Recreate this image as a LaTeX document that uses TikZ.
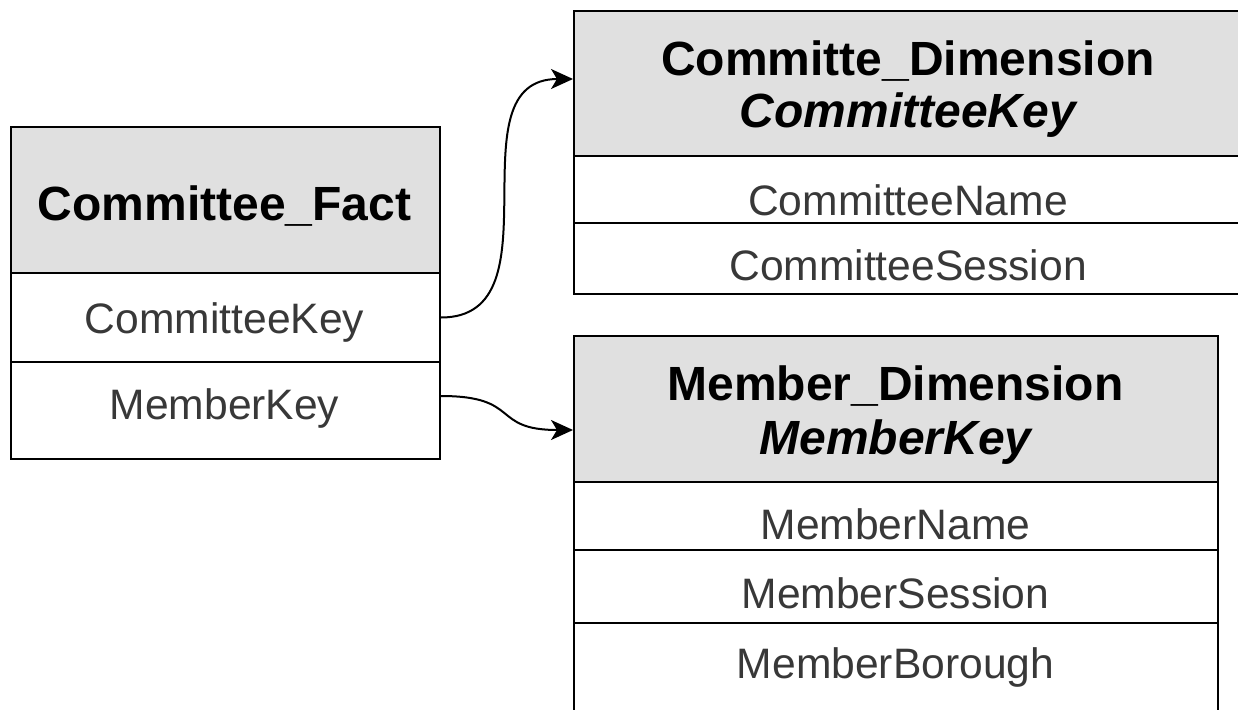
\documentclass[tikz,border=0pt]{standalone}
\usepackage{fontspec}
\setmainfont{Liberation Sans}
\usetikzlibrary{arrows.meta}
\definecolor{headfill}{HTML}{E0E0E0}
\definecolor{rowtext}{HTML}{383838}
\begin{document}
\begin{tikzpicture}[x=1pt,y=-1pt,
  tbcell/.style={draw=black, line width=2pt, rectangle, inner sep=0pt,
                 anchor=north west, minimum width=#1},
  tbhead/.style={tbcell=#1, fill=headfill},
  tbtitle/.style={anchor=base, inner sep=0pt, text=black,
                  font=\fontsize{48}{52}\selectfont\bfseries},
  tbkey/.style={anchor=base, inner sep=0pt, text=black,
                font=\fontsize{48}{52}\selectfont\bfseries\itshape},
  tbfield/.style={anchor=base, inner sep=0pt, text=rowtext,
                  font=\fontsize{42.6}{46}\selectfont},
  tblink/.style={line width=2pt, -{Stealth[length=22pt,width=20pt,inset=6pt]}}]

\useasboundingbox (0,0) rectangle (1238,709);
\clip (0,0) rectangle (1238,709);

% Fact table
\node[tbhead=429, minimum height=146] (cfh) at (10,126) {};
\node[tbcell=429, minimum height=89]  (cfk) at (10,272) {};
\node[tbcell=429, minimum height=97]  (cfm) at (10,361) {};
\node[tbtitle] (cft)  at (224.5,220) {Committee\_Fact};
\node[tbfield] (cfkt) at (224.5,333) {CommitteeKey};
\node[tbfield] (cfmt) at (224.5,419) {MemberKey};

% Committee dimension table
\node[tbhead=670, minimum height=145] (cdh) at (573,10) {};
\node[tbcell=670, minimum height=67]  (cdn) at (573,155) {};
\node[tbcell=670, minimum height=71]  (cds) at (573,222) {};
\node[tbtitle] (cdt)  at (908,75)  {Committe\_Dimension};
\node[tbkey]   (cdk)  at (908,127) {CommitteeKey};
\node[tbfield] (cdnt) at (908,215) {CommitteeName};
\node[tbfield] (cdst) at (908,280) {CommitteeSession};

% Member dimension table
\node[tbhead=644, minimum height=146] (mdh) at (573,335) {};
\node[tbcell=644, minimum height=68]  (mdn) at (573,481) {};
\node[tbcell=644, minimum height=73]  (mds) at (573,549) {};
\node[tbcell=644, minimum height=88]  (mdb) at (573,622) {};
\node[tbtitle] (mdt)  at (895.5,400) {Member\_Dimension};
\node[tbkey]   (mdk)  at (895.5,454) {MemberKey};
\node[tbfield] (mdnt) at (895.5,539) {MemberName};
\node[tbfield] (mdst) at (895.5,608) {MemberSession};
\node[tbfield] (mdbt) at (895.5,678) {MemberBorough};

% Key references
\draw[tblink] (cfk.east) .. controls +(121,0) and +(-123,0) .. ([yshift=4.5pt]cdh.west);
\draw[tblink] ([yshift=14.5pt]cfm.east) .. controls +(81,0) and +(-83,0) .. ([yshift=-21pt]mdh.west);
\end{tikzpicture}
\end{document}
